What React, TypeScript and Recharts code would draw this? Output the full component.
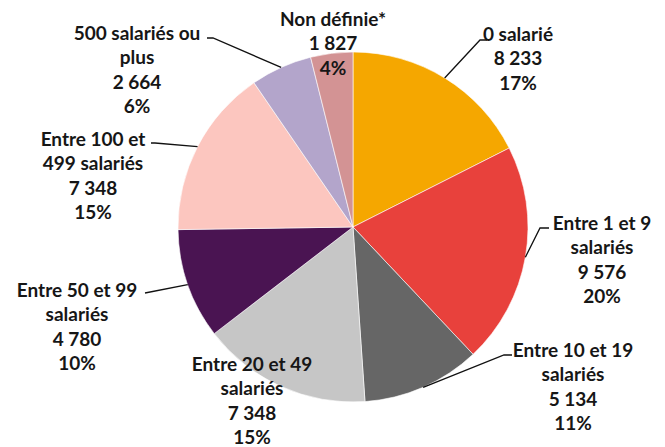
import { PieChart, Pie, Cell } from "recharts"

const categories = [
  "0 salarié",
  "Entre 1 et 9\nsalariés",
  "Entre 10 et 19\nsalariés",
  "Entre 20 et 49\nsalariés",
  "Entre 50 et 99\nsalariés",
  "Entre 100 et\n499 salariés",
  "500 salariés ou\nplus",
  "Non définie*",
]
const values = [8233, 9576, 5134, 7348, 4780, 7348, 2664, 1827]
const shares = ["17%", "20%", "11%", "15%", "10%", "15%", "6%", "4%"]

const colors = [
  "#F5A700",
  "#E8413C",
  "#666666",
  "#C6C6C6",
  "#4A1452",
  "#FCC6BF",
  "#B3A5CB",
  "#D39394",
]

// label placement relative to pie centre: text first-line centre, leader elbow, leader end x
const labelLayout = [
  { tx: 165, ty: -194, elbow: [127, -187], endX: 134 },
  { tx: 249, ty: -5, elbow: [187, 1], endX: 196 },
  { tx: 220, ty: 122, elbow: [151, 128], endX: 159 },
  { tx: -101, ty: 136, elbow: null, endX: null },
  { tx: -276, ty: 62, elbow: [-208, 66], endX: -208 },
  { tx: -260, ty: -89, elbow: [-198, -84], endX: -202 },
  { tx: -216, ty: -195, elbow: [-140, -189], endX: -146 },
  { tx: -20, ty: -209, elbow: null, endX: null },
]

const data = categories.map((name, i) => ({
  name,
  value: values[i],
  share: shares[i],
}))

const fmt = (n: number) => String(n).replace(/\B(?=(\d{3})+(?!\d))/g, " ")

const RAD = Math.PI / 180
const lineH = 24.6

function renderLabel(props: any) {
  const { cx, cy, midAngle, outerRadius, index } = props
  const lay = labelLayout[index]
  const lines = [...categories[index].split("\n"), fmt(values[index]), shares[index]]
  const sx = cx + outerRadius * Math.cos(-midAngle * RAD)
  const sy = cy + outerRadius * Math.sin(-midAngle * RAD)
  return (
    <g key={`lbl-${index}`}>
      {lay.elbow && (
        <polyline
          points={`${sx},${sy} ${cx + lay.elbow[0]},${cy + lay.elbow[1]} ${cx + (lay.endX as number)},${cy + lay.elbow[1]}`}
          fill="none"
          stroke="#111"
          strokeWidth={1.3}
        />
      )}
      <text
        x={cx + lay.tx}
        y={cy + lay.ty}
        textAnchor="middle"
        fill="#161616"
        fontFamily="Lato, sans-serif"
        fontWeight={700}
        fontSize={19}
      >
        {lines.map((l, k) => (
          <tspan key={k} x={cx + lay.tx} y={cy + lay.ty + k * lineH} dominantBaseline="central">
            {l}
          </tspan>
        ))}
      </text>
    </g>
  )
}

export default function App() {
  return (
    <PieChart width={657} height={439} margin={{ top: 0, right: 0, bottom: 0, left: 0 }}>
      <Pie
        data={data}
        dataKey="value"
        nameKey="name"
        cx={345}
        cy={219}
        outerRadius={175}
        startAngle={90}
        endAngle={-270}
        stroke="#ffffff"
        strokeWidth={0.6}
        label={renderLabel}
        labelLine={false}
        isAnimationActive={false}
      >
        {data.map((d, i) => (
          <Cell key={d.name} fill={colors[i]} />
        ))}
      </Pie>
    </PieChart>
  )
}
